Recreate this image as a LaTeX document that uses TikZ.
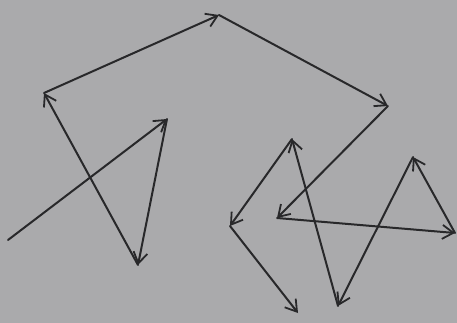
\documentclass[tikz,border=0pt]{standalone}
\usetikzlibrary{arrows.meta}
\definecolor{paper}{RGB}{170,170,172}
\definecolor{pencil}{RGB}{40,40,42}
\tikzset{
  vec/.style={draw=pencil, line width=2pt, line cap=round, line join=round,
    -{Straight Barb[length=11pt,width=14pt,line width=1.8pt]}},
}
\begin{document}
\begin{tikzpicture}[x=1pt,y=-1pt]
\fill[paper] (0,0) rectangle (457,323);
\useasboundingbox (0,0) rectangle (457,323);
\coordinate (p0) at (8,240);
\coordinate (p1) at (167,119);
\coordinate (p2) at (138,265);
\coordinate (p3) at (44,93);
\coordinate (p4) at (219,15);
\coordinate (p5) at (388,106);
\coordinate (p6) at (277,218);
\coordinate (p7) at (455,233);
\coordinate (p8) at (413,157);
\coordinate (p9) at (338,306);
\coordinate (p10) at (292,139);
\coordinate (p11) at (230,226);
\coordinate (p12) at (298,313);
\draw[vec] (p0) -- (p1);
\draw[vec] (p1) -- (p2);
\draw[vec] (p2) -- (p3);
\draw[vec] (p3) -- (p4);
\draw[vec] (p4) -- (p5);
\draw[vec] (p5) -- (p6);
\draw[vec] (p6) -- (p7);
\draw[vec] (p7) -- (p8);
\draw[vec] (p8) -- (p9);
\draw[vec] (p9) -- (p10);
\draw[vec] (p10) -- (p11);
\draw[vec] (p11) -- (p12);
\end{tikzpicture}
\end{document}
